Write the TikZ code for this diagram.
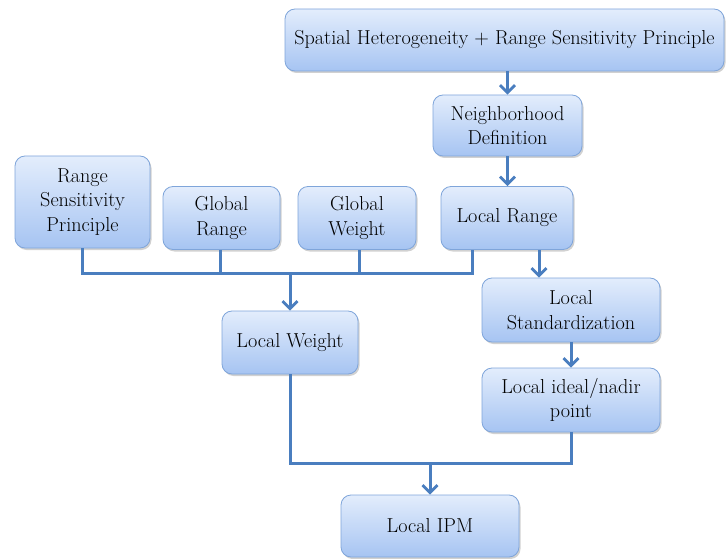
\documentclass[tikz,border=0pt]{standalone}
\usepackage{fontspec}
\usetikzlibrary{arrows.meta,shadows}
\definecolor{boxtop}{HTML}{E3EDFC}
\definecolor{boxbot}{HTML}{A6C4F2}
\definecolor{boxline}{HTML}{7FA5DA}
\definecolor{arr}{HTML}{4A7EBF}
\tikzset{
  box/.style={draw=boxline, line width=0.8pt, rounded corners=10pt,
    top color=boxtop, bottom color=boxbot, align=center,
    font=\fontsize{20.2}{24.5}\selectfont, inner sep=2pt,
    drop shadow={shadow xshift=1.5pt, shadow yshift=-2pt, fill=black, opacity=0.18}},
  conn/.style={draw=arr, line width=3pt},
  arrw/.style={conn, -{Straight Barb[length=7.5pt,width=15pt,line width=2.8pt]}},
}
\begin{document}
\begin{tikzpicture}[x=1pt,y=-1pt]
\useasboundingbox (0,0) rectangle (726,559);
\node[box, minimum width=439, minimum height=62] (top) at (504.5,40) {Spatial Heterogeneity + Range Sensitivity Principle};
\node[box, minimum width=149, minimum height=61] (nd) at (507.5,125.5) {Neighborhood\\Definition};
\node[box, minimum width=132, minimum height=63] (lr) at (507,218) {Local Range};
\node[box, minimum width=135, minimum height=92] (rsp) at (82.5,202) {Range\\Sensitivity\\Principle};
\node[box, minimum width=117, minimum height=63] (gr) at (221.5,218) {Global\\Range};
\node[box, minimum width=118, minimum height=63] (gw) at (357,218) {Global\\Weight};
\node[box, minimum width=136, minimum height=63] (lw) at (290,342.5) {Local Weight};
\node[box, minimum width=178, minimum height=64] (ls) at (571,310) {Local\\Standardization};
\node[box, minimum width=178, minimum height=64] (lin) at (571,400) {Local ideal/nadir\\point};
\node[box, minimum width=178, minimum height=62] (ipm) at (430,526) {Local IPM};

\coordinate (bus1) at (290,273);
\coordinate (bus2) at (430,463);

\draw[arrw] (top.south -| nd.north) -- (nd.north);
\draw[arrw] (nd.south) -- (nd.south |- lr.north);
\draw[arrw] (lr.south -| 539,0) -- (ls.north -| 539,0);
\draw[arrw] (ls.south) -- (lin.north);

\draw[conn, line join=miter] (rsp.south) -- (rsp.south |- bus1) -- (bus1 -| 472,0) -- (lr.south -| 472,0);
\draw[conn] (gr.south -| 220,0) -- (bus1 -| 220,0);
\draw[conn] (gw.south -| 359,0) -- (bus1 -| 359,0);
\draw[arrw] (bus1) -- (lw.north);

\draw[conn, line join=miter] (lw.south) -- (lw.south |- bus2) -- (bus2 -| lin.south) -- (lin.south);
\draw[arrw] (bus2) -- (ipm.north);
\end{tikzpicture}
\end{document}
